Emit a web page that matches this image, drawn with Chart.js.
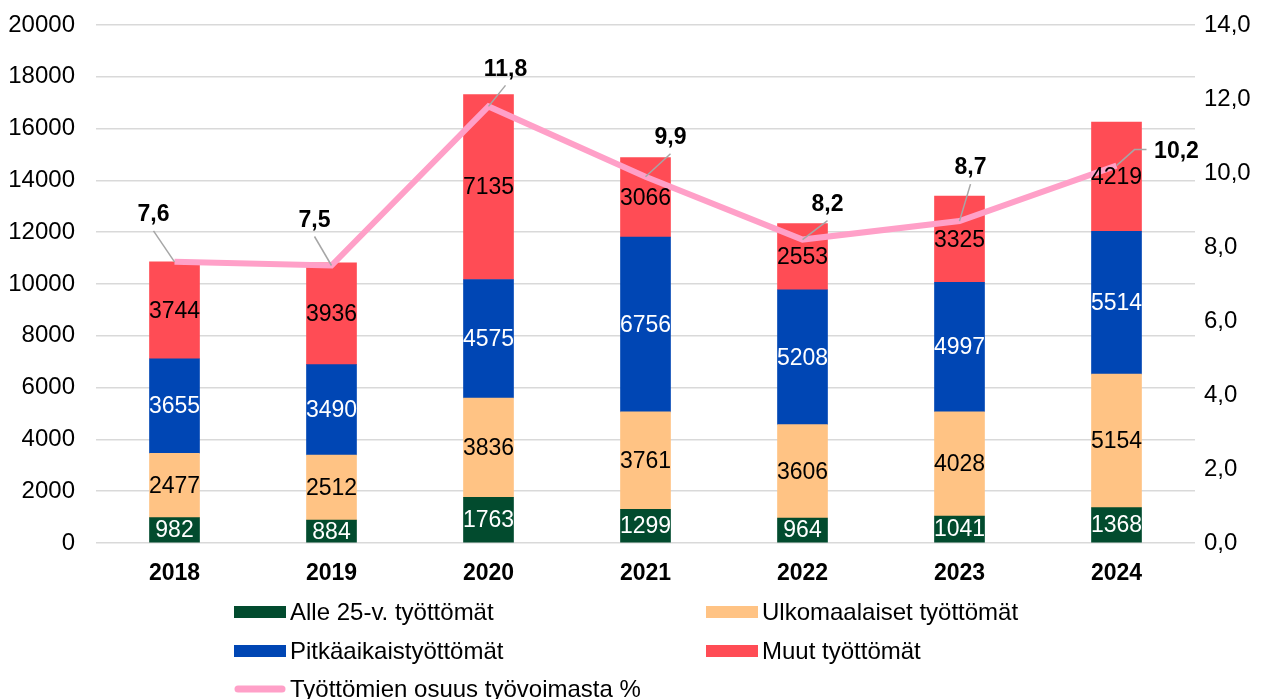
<!DOCTYPE html>
<html>
<head>
<meta charset="utf-8">
<script src="https://cdn.jsdelivr.net/npm/chart.js@4.4.1/dist/chart.umd.min.js"></script>
<style>
  html, body { margin: 0; padding: 0; background: #fff; }
  #wrap { width: 1261px; height: 699px; }
</style>
</head>
<body>
<div id="wrap"><canvas id="chart" width="1261" height="699"></canvas></div>
<script>
// Data
const years = ['2018', '2019', '2020', '2021', '2022', '2023', '2024'];
const youngUnemployed = [982, 884, 1763, 1299, 964, 1041, 1368];
const foreignUnemployed = [2477, 2512, 3836, 3761, 3606, 4028, 5154];
const longTermUnemployed = [3655, 3490, 4575, 6756, 5208, 4997, 5514];
const otherUnemployed = [3744, 3936, 7135, 3066, 2553, 3325, 4219];
const unemploymentRate = [7.6, 7.5, 11.8, 9.9, 8.2, 8.7, 10.2];

// pixel offsets of the rate labels from their points
const rateLabelOffsets = [[-21, -47], [-17, -45], [17, -37], [25, -39], [25, -35], [11, -53], [60, -14]];

const FONT = "'Liberation Sans', Arial, sans-serif";
const fmt = v => v.toFixed(1).replace('.', ',');

// values inside the bar segments
const barLabels = {
  id: 'barLabels',
  afterDatasetsDraw(chart) {
    const ctx = chart.ctx;
    ctx.save();
    ctx.font = '23px ' + FONT;
    ctx.textAlign = 'center';
    ctx.textBaseline = 'middle';
    chart.data.datasets.forEach((ds, i) => {
      if (ds.type === 'line') return;
      const meta = chart.getDatasetMeta(i);
      meta.data.forEach((bar, j) => {
        const midY = (bar.y + bar.base) / 2;
        ctx.fillStyle = ds.labelColor;
        ctx.fillText(String(ds.data[j]), bar.x, midY + 1);
      });
    });

    // rate labels with leader lines
    const li = chart.data.datasets.findIndex(d => d.type === 'line');
    const lmeta = chart.getDatasetMeta(li);
    ctx.font = 'bold 23px ' + FONT;
    lmeta.data.forEach((pt, j) => {
      const [dx, dy] = rateLabelOffsets[j];
      const lx = pt.x + dx, ly = pt.y + dy;
      ctx.strokeStyle = '#A6A6A6';
      ctx.lineWidth = 1.5;
      ctx.beginPath();
      if (Math.abs(dx) > 40) {
        const ex = lx - 30;
        ctx.moveTo(pt.x, pt.y);
        ctx.lineTo(ex - 12, ly - 2);
        ctx.lineTo(ex, ly - 2);
      } else {
        ctx.moveTo(pt.x, pt.y);
        ctx.lineTo(lx, ly + 16);
      }
      ctx.stroke();
      ctx.fillStyle = '#000';
      ctx.fillText(fmt(chart.data.datasets[li].data[j]), lx, ly);
    });
    ctx.restore();
  }
};

// two-column legend under the chart
const legendBlock = {
  id: 'legendBlock',
  afterDraw(chart) {
    const ctx = chart.ctx;
    const ds = chart.data.datasets;
    const cols = [234, 706];
    const rows = [612, 651, 689];
    ctx.save();
    ctx.font = '24px ' + FONT;
    ctx.textBaseline = 'middle';
    ctx.textAlign = 'left';
    ds.forEach((d, k) => {
      const x = cols[k % 2];
      const y = rows[Math.floor(k / 2)];
      if (d.type === 'line') {
        ctx.strokeStyle = d.borderColor;
        ctx.lineWidth = 7;
        ctx.lineCap = 'round';
        ctx.beginPath();
        ctx.moveTo(x + 4, y);
        ctx.lineTo(x + 48, y);
        ctx.stroke();
      } else {
        ctx.fillStyle = d.backgroundColor;
        ctx.fillRect(x, y - 6, 52, 12);
      }
      ctx.fillStyle = '#000';
      ctx.fillText(d.label, x + 56, y + 1);
    });
    ctx.restore();
  }
};

const chartData = {
  labels: years,
  datasets: [
    {
      label: 'Alle 25-v. työttömät',
      data: youngUnemployed,
      backgroundColor: '#024B2E',
      labelColor: '#fff',
      stack: 's',
      yAxisID: 'y',
      order: 1
    },
    {
      label: 'Ulkomaalaiset työttömät',
      data: foreignUnemployed,
      backgroundColor: '#FFC384',
      labelColor: '#000',
      stack: 's',
      yAxisID: 'y',
      order: 1
    },
    {
      label: 'Pitkäaikaistyöttömät',
      data: longTermUnemployed,
      backgroundColor: '#0046B4',
      labelColor: '#fff',
      stack: 's',
      yAxisID: 'y',
      order: 1
    },
    {
      label: 'Muut työttömät',
      data: otherUnemployed,
      backgroundColor: '#FF4C55',
      labelColor: '#000',
      stack: 's',
      yAxisID: 'y',
      order: 1
    },
    {
      type: 'line',
      label: 'Työttömien osuus työvoimasta %',
      data: unemploymentRate,
      borderColor: '#FFA0C8',
      backgroundColor: '#FFA0C8',
      borderWidth: 6,
      pointRadius: 0,
      tension: 0,
      yAxisID: 'y1',
      order: 0
    }
  ]
};

const config = {
  type: 'bar',
  data: chartData,
  options: {
    responsive: false,
    animation: false,
    barThickness: 50,
    layout: { padding: { top: 25, left: 0, right: 0, bottom: 0 } },
    scales: {
      x: {
        stacked: true,
        grid: { display: false, drawTicks: false },
        border: { display: false },
        ticks: { color: '#000', font: { family: FONT, size: 23, weight: 'bold' }, padding: 17 },
        afterFit: s => { s.height = 156; }
      },
      y: {
        stacked: true,
        min: 0,
        max: 20000,
        ticks: { stepSize: 2000, color: '#000', font: { family: FONT, size: 24 }, padding: 21, callback: v => String(v) },
        grid: { color: '#D9D9D9', lineWidth: 1.5, drawTicks: false },
        border: { display: false },
        afterFit: s => { s.width = 96; s.paddingTop = 0; s.paddingBottom = 0; }
      },
      y1: {
        position: 'right',
        min: 0,
        max: 14,
        ticks: { stepSize: 2, color: '#000', font: { family: FONT, size: 24 }, padding: 9, callback: v => fmt(v) },
        grid: { display: false, drawTicks: false },
        border: { display: false },
        afterFit: s => { s.width = 66; s.paddingTop = 0; s.paddingBottom = 0; }
      }
    },
    plugins: {
      legend: { display: false },
      tooltip: { enabled: false }
    }
  },
  plugins: [barLabels, legendBlock]
};

const ctx = document.getElementById('chart').getContext('2d');
const myChart = new Chart(ctx, config);
</script>
</body>
</html>
